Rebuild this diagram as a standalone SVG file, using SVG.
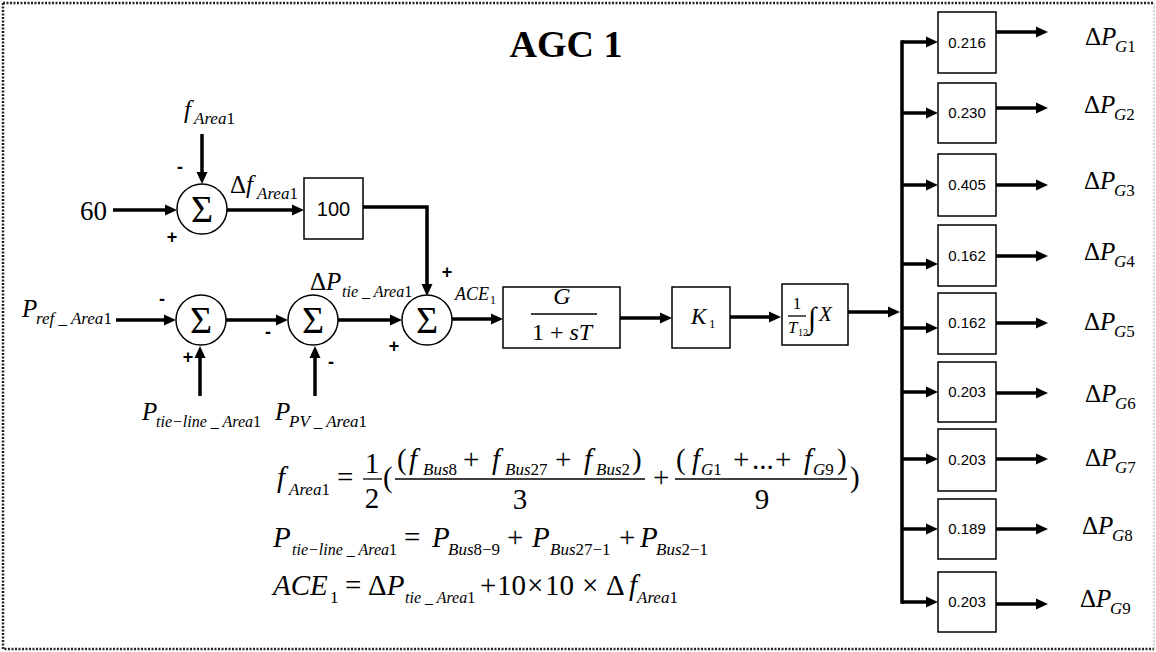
<svg xmlns="http://www.w3.org/2000/svg" width="1156" height="652" viewBox="0 0 1156 652">
<defs>
<marker id="ah" markerUnits="userSpaceOnUse" markerWidth="12" markerHeight="11" refX="6" refY="5.5" orient="auto" overflow="visible"><path d="M0,0 L12,5.5 L0,11 z" fill="#000"/></marker>
<style>
.ser{font-family:"Liberation Serif","Times New Roman",serif;fill:#000}
.it{font-style:italic}
.m{font-size:25px}
.s{font-size:17px}
.em{font-size:29px}
.es{font-size:17px}
.mid{text-anchor:middle}
.sign{font-family:"Liberation Sans",Arial,sans-serif;font-weight:bold;font-size:18px;text-anchor:middle}
.gain{font-family:"Liberation Sans",Arial,sans-serif;font-size:15px;text-anchor:middle}
.box{fill:#fff;stroke:#000;stroke-width:1.5}
.sum{fill:#fff;stroke:#000;stroke-width:1.5}
.sig{font-family:"Liberation Serif",serif;font-size:38px;text-anchor:middle}
.bar{stroke:#000;stroke-width:1.3}
.w{fill:none;stroke:#000;stroke-width:3.5}
.a{fill:none;stroke:#000;stroke-width:3.5;marker-end:url(#ah)}
</style>
</defs>
<rect width="1156" height="652" fill="#fff"/>
<g id="frame" fill="none" stroke="#222" stroke-width="2.5" stroke-dasharray="2 1.5">
<path d="M3,3 H1154 M3,3 V649 H1154"/>
<path d="M1154,3 V649" stroke="#aaa" stroke-width="1"/>
</g>
<text class="ser" x="566" y="57" text-anchor="middle" font-size="38" font-weight="bold">AGC 1</text>

<g id="connectors">
<path class="a" d="M113,210 H171"/>
<path class="a" d="M202,134 V178"/>
<path class="a" d="M227,210 H298"/>
<path class="a" d="M363,207 H427 V290"/>
<path class="a" d="M116,320 H170"/>
<path class="a" d="M226,320 H282"/>
<path class="a" d="M338,320 H396"/>
<path class="a" d="M200,396 V352"/>
<path class="a" d="M315,396 V352"/>
<path class="a" d="M452,319 H497"/>
<path class="a" d="M620,318 H666"/>
<path class="a" d="M730,317 H775"/>
<path class="a" d="M848,312 H894"/>
<path class="w" d="M902,42 V602" stroke-linecap="square"/>
<path class="a" d="M902,42 H932"/>
<path class="a" d="M902,113 H932"/>
<path class="a" d="M902,185 H932"/>
<path class="a" d="M902,264 H932"/>
<path class="a" d="M902,328 H932"/>
<path class="a" d="M902,392 H932"/>
<path class="a" d="M902,459 H932"/>
<path class="a" d="M902,529 H932"/>
<path class="a" d="M902,602 H932"/>
<path class="a" d="M996,32 H1042"/>
<path class="a" d="M996,108 H1042"/>
<path class="a" d="M996,185 H1042"/>
<path class="a" d="M996,256 H1042"/>
<path class="a" d="M996,323 H1042"/>
<path class="a" d="M996,393 H1042"/>
<path class="a" d="M996,459 H1042"/>
<path class="a" d="M996,529 H1042"/>
<path class="a" d="M996,604 H1042"/>
</g>

<g id="in-60"><text class="ser" x="80" y="220" font-size="27">60</text></g>
<g id="in-fArea1"><text class="ser it m" x="184" y="118">f</text><text class="ser s" x="194" y="124"><tspan class="it">Area</tspan>1</text></g>
<g id="sum1">
<circle class="sum" cx="202" cy="209" r="25"/>
<text class="sig" x="202" y="222">Σ</text>
<text class="sign" x="180" y="173">-</text>
<text class="sign" x="172" y="243">+</text>
</g>
<g id="lbl-dfArea1"><text class="ser m" x="230" y="193">Δ<tspan class="it">f</tspan></text><text class="ser s" x="257" y="199"><tspan class="it">Area</tspan>1</text></g>
<g id="gain100"><rect class="box" x="304" y="178" width="59" height="61"/><text x="333.5" y="216" font-family="Liberation Sans, Arial, sans-serif" font-size="20" text-anchor="middle">100</text></g>

<g id="in-Pref"><text class="ser it m" x="22" y="317">P</text><text class="ser it s" x="36" y="324">ref _ Area<tspan font-style="normal">1</tspan></text></g>
<g id="sumA">
<circle class="sum" cx="201" cy="320" r="25"/>
<text class="sig" x="201" y="333">Σ</text>
<text class="sign" x="162" y="305">-</text>
<text class="sign" x="188" y="363">+</text>
</g>
<g id="in-Ptieline"><text class="ser it m" x="142" y="420">P</text><text class="ser it" x="156" y="427" font-size="16">tie−line _ Area<tspan font-style="normal">1</tspan></text></g>
<g id="sumB">
<circle class="sum" cx="313" cy="320" r="25"/>
<text class="sig" x="313" y="333">Σ</text>
<text class="sign" x="268" y="338">-</text>
<text class="sign" x="331" y="368">-</text>
</g>
<g id="in-PPV"><text class="ser it m" x="275" y="420">P</text><text class="ser it s" x="289" y="427">PV _ Area<tspan font-style="normal">1</tspan></text></g>
<g id="lbl-dPtie"><text class="ser m" x="310" y="290">Δ<tspan class="it">P</tspan></text><text class="ser it" x="342" y="297" font-size="16">tie _ Area<tspan font-style="normal">1</tspan></text></g>
<g id="sumC">
<circle class="sum" cx="427" cy="320" r="25"/>
<text class="sig" x="427" y="333">Σ</text>
<text class="sign" x="447" y="278">+</text>
<text class="sign" x="394" y="352">+</text>
</g>
<g id="lbl-ACE"><text class="ser it" x="455" y="300" font-size="18">ACE</text><text class="ser" x="490" y="304" font-size="12">1</text></g>

<g id="tf">
<rect class="box" x="503" y="287" width="117" height="61"/>
<text class="ser it mid" x="562" y="304" font-size="24">G</text>
<line class="bar" x1="531" y1="314" x2="597" y2="314"/>
<text class="ser mid" x="562" y="340" font-size="24">1 + <tspan class="it">sT</tspan></text>
</g>
<g id="gainK1">
<rect class="box" x="672" y="287" width="58" height="61"/>
<text class="ser it" x="691" y="324" font-size="23">K</text><text class="ser" x="709" y="328" font-size="13">1</text>
</g>
<g id="integ">
<rect class="box" x="782" y="284" width="66" height="61"/>
<text class="ser mid" x="797" y="309" font-size="17">1</text>
<line class="bar" x1="788" y1="316" x2="806" y2="316" stroke-width="1"/>
<text class="ser it" x="788" y="333" font-size="17">T</text><text class="ser" x="798" y="336" font-size="10">12</text>
<text class="ser" x="808" y="328" font-size="30">∫</text>
<text class="ser it" x="819" y="321" font-size="21">X</text>
</g>

<g id="g1"><rect class="box" x="938" y="12" width="58" height="61"/><text class="gain" x="967" y="48">0.216</text></g>
<g id="g2"><rect class="box" x="938" y="83" width="58" height="60"/><text class="gain" x="967" y="118">0.230</text></g>
<g id="g3"><rect class="box" x="938" y="154" width="58" height="62"/><text class="gain" x="967" y="190">0.405</text></g>
<g id="g4"><rect class="box" x="938" y="225" width="58" height="61"/><text class="gain" x="967" y="261">0.162</text></g>
<g id="g5"><rect class="box" x="938" y="293" width="58" height="61"/><text class="gain" x="967" y="328">0.162</text></g>
<g id="g6"><rect class="box" x="938" y="362" width="58" height="60"/><text class="gain" x="967" y="397">0.203</text></g>
<g id="g7"><rect class="box" x="938" y="429" width="58" height="62"/><text class="gain" x="967" y="465">0.203</text></g>
<g id="g8"><rect class="box" x="938" y="499" width="58" height="60"/><text class="gain" x="967" y="534">0.189</text></g>
<g id="g9"><rect class="box" x="938" y="572" width="58" height="60"/><text class="gain" x="967" y="607">0.203</text></g>

<g id="out1"><text class="ser m" x="1085" y="45">Δ<tspan class="it">P</tspan></text><text class="ser s" x="1115" y="52"><tspan class="it">G</tspan>1</text></g>
<g id="out2"><text class="ser m" x="1084" y="113">Δ<tspan class="it">P</tspan></text><text class="ser s" x="1114" y="120"><tspan class="it">G</tspan>2</text></g>
<g id="out3"><text class="ser m" x="1084" y="189">Δ<tspan class="it">P</tspan></text><text class="ser s" x="1114" y="196"><tspan class="it">G</tspan>3</text></g>
<g id="out4"><text class="ser m" x="1084" y="260">Δ<tspan class="it">P</tspan></text><text class="ser s" x="1114" y="267"><tspan class="it">G</tspan>4</text></g>
<g id="out5"><text class="ser m" x="1084" y="330">Δ<tspan class="it">P</tspan></text><text class="ser s" x="1114" y="337"><tspan class="it">G</tspan>5</text></g>
<g id="out6"><text class="ser m" x="1085" y="402">Δ<tspan class="it">P</tspan></text><text class="ser s" x="1115" y="409"><tspan class="it">G</tspan>6</text></g>
<g id="out7"><text class="ser m" x="1085" y="466">Δ<tspan class="it">P</tspan></text><text class="ser s" x="1115" y="473"><tspan class="it">G</tspan>7</text></g>
<g id="out8"><text class="ser m" x="1082" y="534">Δ<tspan class="it">P</tspan></text><text class="ser s" x="1112" y="541"><tspan class="it">G</tspan>8</text></g>
<g id="out9"><text class="ser m" x="1080" y="607">Δ<tspan class="it">P</tspan></text><text class="ser s" x="1110" y="614"><tspan class="it">G</tspan>9</text></g>

<g id="equations">
<text class="ser it em" x="277" y="487">f</text>
<text class="ser es" x="289" y="495"><tspan class="it">Area</tspan>1</text>
<text class="ser em" x="337" y="487">=</text>
<text class="ser em mid" x="372" y="473">1</text>
<line class="bar" x1="363" y1="479" x2="382" y2="479"/>
<text class="ser em mid" x="372" y="508">2</text>
<text class="ser em" x="383" y="487">(</text>
<text class="ser em" x="397" y="469">(</text>
<text class="ser it em" x="409" y="469">f</text>
<text class="ser es" x="423" y="475"><tspan class="it">Bus</tspan>8</text>
<text class="ser em" x="463" y="469">+</text>
<text class="ser it em" x="492" y="469">f</text>
<text class="ser es" x="505" y="475"><tspan class="it">Bus</tspan>27</text>
<text class="ser em" x="555" y="469">+</text>
<text class="ser it em" x="584" y="469">f</text>
<text class="ser es" x="596" y="475"><tspan class="it">Bus</tspan>2</text>
<text class="ser em" x="632" y="469">)</text>
<line class="bar" x1="395" y1="479" x2="645" y2="479"/>
<text class="ser em mid" x="520" y="509">3</text>
<text class="ser em" x="653" y="487">+</text>
<text class="ser em" x="676" y="469">(</text>
<text class="ser it em" x="692" y="469">f</text>
<text class="ser es" x="701" y="475"><tspan class="it">G</tspan>1</text>
<text class="ser em" x="733" y="469">+</text>
<text class="ser em" x="752" y="469">...</text>
<text class="ser em" x="775" y="469">+</text>
<text class="ser it em" x="804" y="469">f</text>
<text class="ser es" x="813" y="475"><tspan class="it">G</tspan>9</text>
<text class="ser em" x="837" y="469">)</text>
<line class="bar" x1="675" y1="479" x2="847" y2="479"/>
<text class="ser em mid" x="762" y="509">9</text>
<text class="ser em" x="850" y="487">)</text>

<text class="ser it em" x="273" y="547">P</text>
<text class="ser it" x="292" y="555" font-size="16">tie−line _ Area<tspan font-style="normal">1</tspan></text>
<text class="ser em" x="404" y="547">=</text>
<text class="ser it em" x="432" y="547">P</text>
<text class="ser es" x="448" y="555"><tspan class="it">Bus</tspan>8−9</text>
<text class="ser em" x="507" y="547">+</text>
<text class="ser it em" x="532" y="547">P</text>
<text class="ser es" x="550" y="555"><tspan class="it">Bus</tspan>27−1</text>
<text class="ser em" x="619" y="547">+</text>
<text class="ser it em" x="640" y="547">P</text>
<text class="ser es" x="656" y="555"><tspan class="it">Bus</tspan>2−1</text>

<text class="ser it em" x="273" y="595">ACE</text>
<text class="ser es" x="330" y="603">1</text>
<text class="ser em" x="345" y="595">=</text>
<text class="ser em" x="368" y="595">Δ<tspan class="it">P</tspan></text>
<text class="ser it" x="405" y="603" font-size="16">tie _ Area<tspan font-style="normal">1</tspan></text>
<text class="ser em" x="480" y="595">+</text>
<text class="ser em" x="497" y="595">10</text>
<text class="ser em" x="527" y="595">×</text>
<text class="ser em" x="545" y="595">10</text>
<text class="ser em" x="582" y="595">×</text>
<text class="ser em" x="606" y="595">Δ</text>
<text class="ser it em" x="629" y="595">f</text>
<text class="ser es" x="637" y="603"><tspan class="it">Area</tspan>1</text>
</g>
</svg>
